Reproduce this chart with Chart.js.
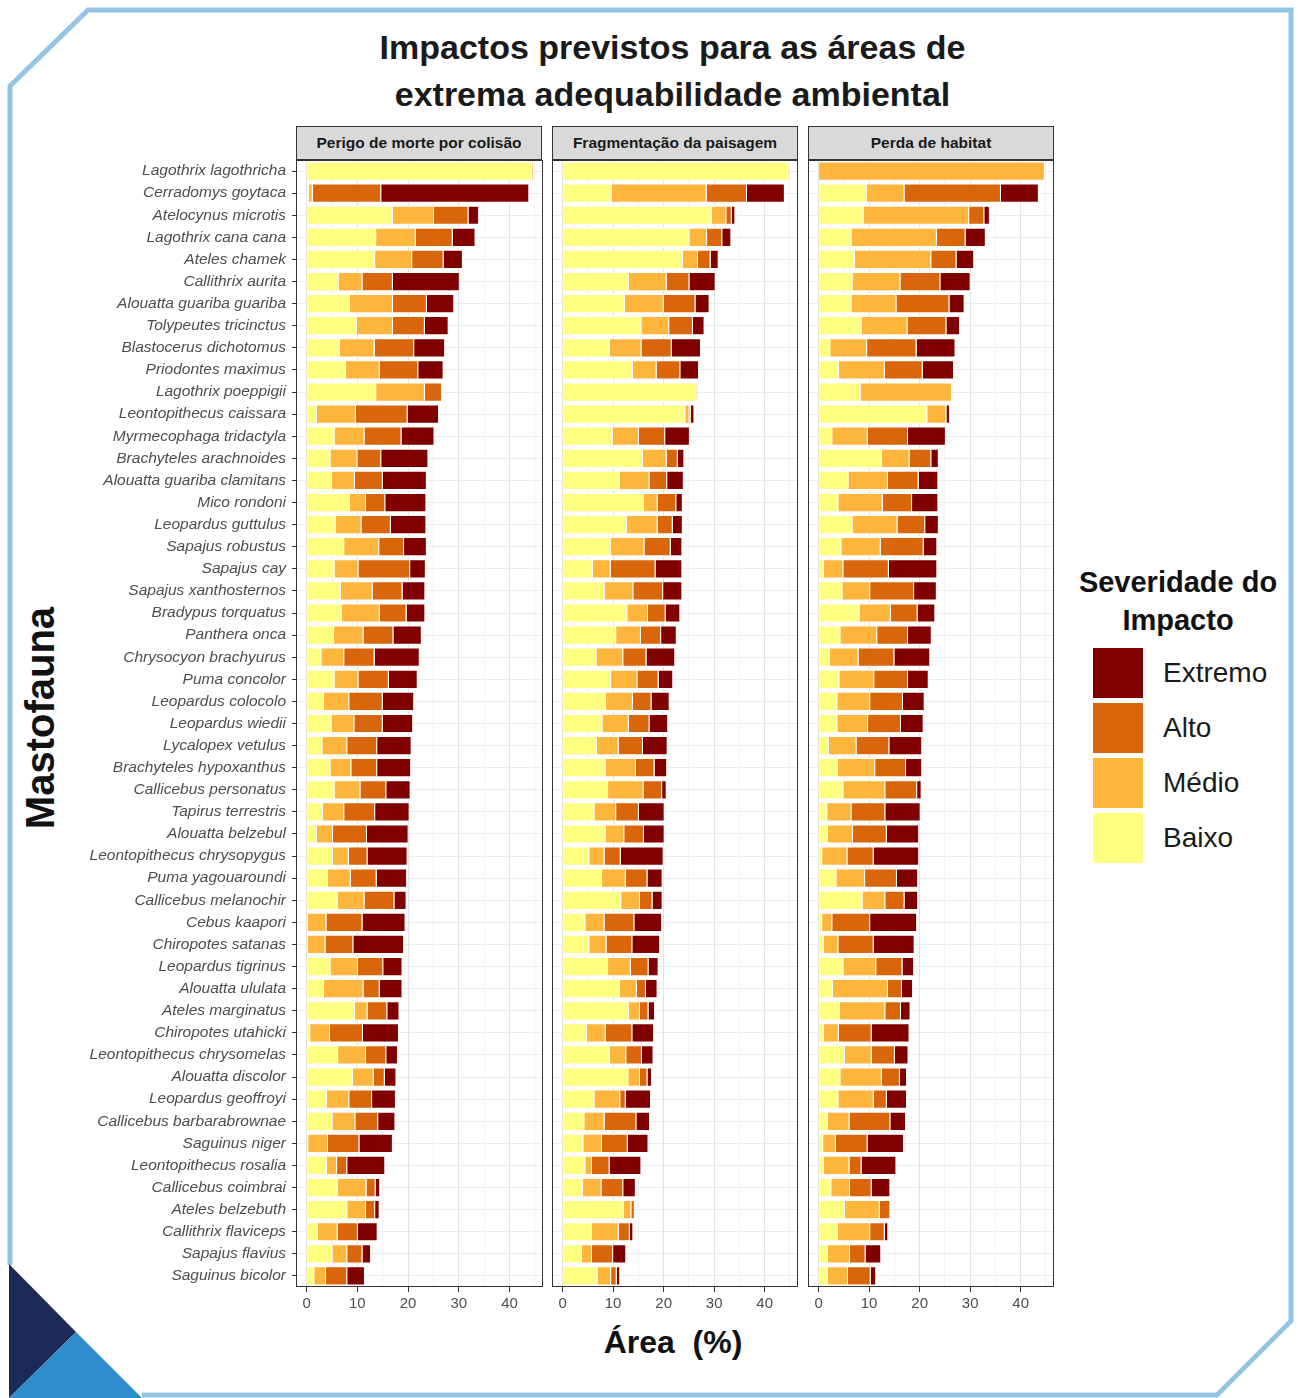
<!DOCTYPE html>
<html>
<head>
<meta charset="utf-8">
<script src="https://cdn.jsdelivr.net/npm/chart.js@4.4.1/dist/chart.umd.min.js"></script>
<style>
  html, body { margin:0; padding:0; background:#fff; }
  body { width:1298px; height:1398px; position:relative; overflow:hidden; font-family:"Liberation Sans", Arial, sans-serif; }
  canvas { position:absolute; }
  .title { position:absolute; left:0; width:1345px; text-align:center; font-weight:bold; font-size:34px; color:#1a1a1a; line-height:47px; top:24px; }
  .strip { position:absolute; top:126px; height:34px; width:246px; box-sizing:border-box; background:#d9d9d9; border:1px solid #333; font-weight:bold; font-size:15.5px; color:#1a1a1a; text-align:center; line-height:31px; }
  .ylab { position:absolute; left:40px; top:718px; transform:translate(-50%,-50%) rotate(-90deg); font-weight:bold; font-size:40px; color:#111; white-space:nowrap; }
  .xlab { position:absolute; left:673px; top:1342px; transform:translate(-50%,-50%); font-weight:bold; font-size:32px; color:#111; white-space:pre; }
  .legtitle { position:absolute; left:1060px; width:236px; top:563px; text-align:center; font-weight:bold; font-size:29px; line-height:38px; color:#111; }
  .sw { position:absolute; left:1093px; width:50px; height:50px; }
  .swl { position:absolute; left:1163px; font-size:28px; color:#1a1a1a; line-height:30px; }
</style>
</head>
<body>
<svg width="1298" height="1398" style="position:absolute;left:0;top:0">
  <polyline points="10,1265 10,86 88,10 1291,10 1291,1321 1217,1395 142,1395" fill="none" stroke="#95c5e6" stroke-width="5"/>
  <polygon points="9,1264 76,1332 9,1398" fill="#1c2a57"/>
  <polygon points="9,1398 76,1332 142,1398" fill="#2f8dcb"/>
</svg>

<div class="title">Impactos previstos para as áreas de<br>extrema adequabilidade ambiental</div>
<div class="ylab">Mastofauna</div>
<div class="xlab">Área  (%)</div>

<div class="strip" id="s1" style="left:296px"></div>
<div class="strip" id="s2" style="left:552px"></div>
<div class="strip" id="s3" style="left:808px"></div>

<canvas id="c1" width="543" height="1162" style="left:0px;top:160px"></canvas>
<canvas id="c2" width="246" height="1162" style="left:552px;top:160px"></canvas>
<canvas id="c3" width="246" height="1162" style="left:808px;top:160px"></canvas>

<div class="legtitle">Severidade do<br>Impacto</div>
<div id="legend"></div>

<script>
var species = ['Lagothrix lagothricha','Cerradomys goytaca','Atelocynus microtis','Lagothrix cana cana','Ateles chamek',
  'Callithrix aurita','Alouatta guariba guariba','Tolypeutes tricinctus','Blastocerus dichotomus','Priodontes maximus',
  'Lagothrix poeppigii','Leontopithecus caissara','Myrmecophaga tridactyla','Brachyteles arachnoides','Alouatta guariba clamitans',
  'Mico rondoni','Leopardus guttulus','Sapajus robustus','Sapajus cay','Sapajus xanthosternos',
  'Bradypus torquatus','Panthera onca','Chrysocyon brachyurus','Puma concolor','Leopardus colocolo',
  'Leopardus wiedii','Lycalopex vetulus','Brachyteles hypoxanthus','Callicebus personatus','Tapirus terrestris',
  'Alouatta belzebul','Leontopithecus chrysopygus','Puma yagouaroundi','Callicebus melanochir','Cebus kaapori',
  'Chiropotes satanas','Leopardus tigrinus','Alouatta ululata','Ateles marginatus','Chiropotes utahicki',
  'Leontopithecus chrysomelas','Alouatta discolor','Leopardus geoffroyi','Callicebus barbarabrownae','Saguinus niger',
  'Leontopithecus rosalia','Callicebus coimbrai','Ateles belzebuth','Callithrix flaviceps','Sapajus flavius',
  'Saguinus bicolor'];

var levels = ['Baixo','Médio','Alto','Extremo'];
var levelColors = ['#ffff80','#fdb53c','#da660b','#800000'];
var panelTitles = ['Perigo de morte por colisão','Fragmentação da paisagem','Perda de habitat'];
var xTicks = [0,5,10,15,20,25,30,35,40,45];

// Perigo de morte por colisão
var colBaixo = [44.4,0.4,17.0,13.7,13.5,6.3,8.5,9.9,6.5,7.7,13.7,2.0,5.5,4.7,5.0,8.5,5.7,7.4,5.5,6.7,6.9,5.4,2.9,5.5,3.4,4.9,3.1,4.7,5.5,3.2,2.0,5.2,4.2,6.1,0.2,0.2,4.7,3.4,9.5,0.7,6.2,9.1,4.0,5.1,0.3,4.0,6.1,8.0,2.2,5.1,1.5];
var colMedio = [0.3,0.8,8.1,7.8,7.3,4.7,8.5,7.1,6.9,6.7,9.6,7.7,5.9,5.3,4.5,3.2,5.1,6.9,4.7,6.3,7.5,5.8,4.5,4.7,5.0,4.5,4.9,4.1,5.1,4.2,3.2,3.1,4.5,5.3,3.7,3.5,5.4,7.8,2.5,3.9,5.5,4.1,4.4,4.5,3.9,2.0,5.7,3.7,3.9,2.9,2.3];
var colAlto = [0,13.5,6.8,7.3,6.2,6.0,6.7,6.3,7.8,7.6,3.4,10.2,7.3,4.7,5.5,3.8,5.8,4.9,10.2,5.9,5.3,5.9,6.0,6.0,6.6,5.6,5.9,5.1,5.1,6.1,6.7,3.7,5.1,5.9,7.1,5.5,5.0,3.2,3.9,6.5,4.0,2.2,4.5,4.5,6.2,2.0,1.8,1.8,4.0,3.0,4.2];
var colExtremo = [0,29.2,2.1,4.5,3.8,13.2,5.4,4.7,6.1,5.0,0,6.2,6.5,9.3,8.7,8.1,7.0,4.5,3.1,4.5,3.7,5.6,8.9,5.7,6.2,6.0,6.8,6.7,4.8,6.8,8.2,7.9,6.0,2.4,8.5,10.0,3.8,4.5,2.4,7.1,2.3,2.3,4.7,3.4,6.6,7.5,0.9,0.9,3.9,1.7,3.5];

// Fragmentação da paisagem
var fragBaixo = [44.7,9.7,29.5,25.1,23.8,13.1,12.3,15.6,9.3,13.9,26.5,24.3,9.9,15.9,11.3,16.1,12.7,9.5,6.0,8.3,12.8,10.6,6.7,9.6,8.6,7.9,6.8,8.5,9.0,6.3,8.5,5.3,7.8,11.6,4.5,5.3,9.0,11.3,13.1,4.8,9.3,13.0,6.3,4.3,4.1,4.5,4.0,12.1,5.8,3.8,6.9];
var fragMedio = [0.3,18.8,2.9,3.5,3.0,7.5,7.7,5.5,6.3,4.7,0.3,0.8,5.2,4.7,5.9,2.7,6.1,6.7,3.5,5.7,4.1,4.9,5.3,5.2,5.3,5.2,4.3,6.0,7.0,4.3,3.7,3.0,4.7,3.7,3.8,3.4,4.5,3.4,2.2,3.7,3.3,2.3,5.1,4.0,3.7,1.3,3.7,1.5,5.3,2.0,2.7];
var fragAlto = [0,8.0,1.1,3.0,2.5,4.5,6.3,4.7,6.0,4.7,0,0.3,5.2,2.2,3.5,3.7,3.0,5.2,8.9,5.9,3.5,4.0,4.6,4.2,3.7,4.1,4.8,3.7,3.7,4.5,3.9,3.2,4.3,2.5,5.9,5.1,3.5,1.8,1.7,5.3,3.1,1.5,1.1,6.3,5.1,3.5,4.3,0.7,2.2,4.2,1.1];
var fragExtremo = [0,7.5,0.7,1.8,1.6,5.2,2.8,2.3,5.8,3.7,0,0.7,4.9,1.3,3.3,1.3,2.0,2.3,5.3,3.8,2.9,3.1,5.7,2.9,3.6,3.7,4.9,2.5,0.9,5.1,4.1,8.5,3.0,2.0,5.5,5.5,2.0,2.3,1.3,4.3,2.3,0.9,5.0,2.7,4.1,6.3,2.5,0.1,0.7,2.6,0.7];

// Perda de habitat
var habBaixo = [0,9.5,8.9,6.5,7.2,6.7,6.5,8.5,2.3,4.0,8.3,21.5,2.7,12.5,5.9,3.9,6.7,4.5,1.0,4.7,8.1,4.3,2.2,4.1,3.7,3.7,2.0,3.8,4.9,1.7,1.8,0.7,3.5,8.7,0.7,1.0,4.9,2.8,4.2,1.0,5.2,4.3,3.9,1.8,0.9,1.0,2.5,5.2,3.8,1.8,1.8];
var habMedio = [44.8,7.5,20.9,16.9,15.1,9.5,8.9,9.1,7.3,9.1,18.1,3.8,7.0,5.5,7.8,8.8,8.9,7.8,3.9,5.5,6.2,7.3,5.7,6.9,6.5,6.1,5.5,7.4,8.3,4.8,5.0,5.0,5.7,4.5,2.0,2.9,6.5,10.9,9.0,3.0,5.3,8.2,7.0,4.3,2.5,5.1,3.7,6.9,6.4,4.4,4.0];
var habAlto = [0,19.1,3.0,5.7,5.0,7.9,10.5,7.7,9.8,7.5,0,0,8.0,4.3,6.1,5.8,5.5,8.5,9.0,8.7,5.3,6.1,7.1,6.7,6.5,6.5,6.5,6.1,6.3,6.7,6.7,5.2,6.3,3.8,7.5,7.0,5.2,2.8,3.1,6.5,4.6,3.6,2.6,8.1,6.3,2.4,4.3,2.1,2.9,3.1,4.5];
var habExtremo = [0,7.5,1.1,4.0,3.5,6.0,3.0,2.7,7.7,6.2,0,0.7,7.5,1.5,3.9,5.2,2.7,2.7,9.6,4.5,3.5,4.7,7.1,4.1,4.3,4.5,6.5,3.2,0.9,7.0,6.4,9.0,4.2,2.7,9.3,8.1,2.3,2.2,1.9,7.5,2.7,1.4,4.0,3.1,7.2,6.9,3.7,0,0.7,3.1,1.1];

var fontFam = '"Liberation Sans", Arial, sans-serif';

// draws the dark panel border like ggplot theme_bw
var panelBox = {
  id: 'panelBox',
  afterDraw: function(chart){
    var a = chart.chartArea, ctx = chart.ctx;
    ctx.save();
    ctx.strokeStyle = '#333333';
    ctx.lineWidth = 1;
    ctx.strokeRect(a.left+0.5, a.top+0.5, a.right-a.left-1, a.bottom-a.top-1);
    ctx.restore();
  }
};

function drawPanel(canvasId, series, showY){
  var sets = [];
  for (var i=0;i<levels.length;i++){
    sets.push({
      label: levels[i],
      data: series[i],
      backgroundColor: levelColors[i],
      borderColor: '#ffffff',
      borderWidth: 1,
      barPercentage: 0.87,
      categoryPercentage: 1
    });
  }
  return new Chart(document.getElementById(canvasId), {
    type: 'bar',
    data: { labels: species, datasets: sets },
    options: {
      indexAxis: 'y',
      responsive: false,
      animation: false,
      layout: { padding: 0 },
      plugins: { legend: {display:false}, tooltip: {enabled:false} },
      scales: {
        x: {
          stacked: true,
          min: -2.1,
          max: 46.6,
          afterBuildTicks: function(axis){ axis.ticks = xTicks.map(function(v){ return {value:v}; }); },
          afterFit: function(axis){ axis.height = 35; axis.paddingLeft = 0; axis.paddingRight = 0; },
          ticks: {
            autoSkip: false, maxRotation: 0, padding: 3,
            color: '#4d4d4d', font: {size:15, family:fontFam},
            callback: function(v){ return v % 10 === 0 ? v : ''; }
          },
          grid: {
            color: function(c){ return (c.tick && c.tick.value % 10 === 0) ? '#e3e3e3' : '#f2f2f2'; },
            tickColor: function(c){ return (c.tick && c.tick.value % 10 === 0) ? '#333333' : 'rgba(0,0,0,0)'; },
            tickLength: 5
          },
          border: { display:false }
        },
        y: {
          stacked: true,
          afterFit: function(axis){
            axis.width = showY ? 296 : 0;
            axis.paddingTop = 0;
            axis.paddingBottom = 0;
          },
          ticks: {
            display: showY, autoSkip: false, padding: 6,
            color: '#4d4d4d', font: {size:15.5, style:'italic', family:fontFam}
          },
          grid: { offset: false, color: '#ececec', drawTicks: showY, tickLength: 4, tickColor: '#333333' },
          border: { display:false }
        }
      }
    },
    plugins: [panelBox]
  });
}

var panels = [
  {canvas:'c1', strip:'s1', series:[colBaixo,colMedio,colAlto,colExtremo], showY:true},
  {canvas:'c2', strip:'s2', series:[fragBaixo,fragMedio,fragAlto,fragExtremo], showY:false},
  {canvas:'c3', strip:'s3', series:[habBaixo,habMedio,habAlto,habExtremo], showY:false}
];
panels.forEach(function(p, k){
  document.getElementById(p.strip).textContent = panelTitles[k];
  drawPanel(p.canvas, p.series, p.showY);
});

// legend, top entry is Extremo
var leg = document.getElementById('legend');
var legTop = [813, 758, 703, 648];
for (var i=levels.length-1;i>=0;i--){
  var sw = document.createElement('div');
  sw.className = 'sw';
  sw.style.top = legTop[i] + 'px';
  sw.style.background = levelColors[i];
  leg.appendChild(sw);
  var lb = document.createElement('div');
  lb.className = 'swl';
  lb.style.top = (legTop[i] + 10) + 'px';
  lb.textContent = levels[i];
  leg.appendChild(lb);
}
</script>
</body>
</html>
